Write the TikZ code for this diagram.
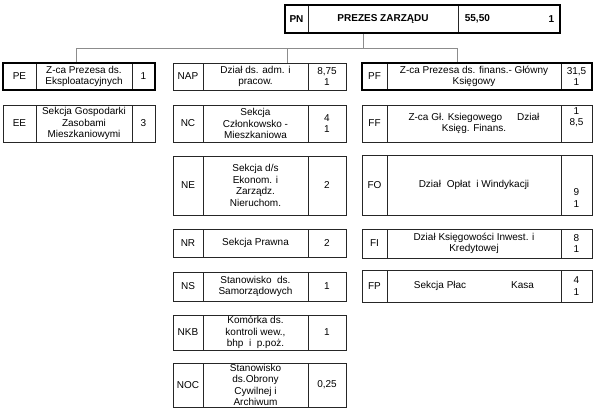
\documentclass[tikz,border=0pt]{standalone}
\usepackage{fontspec}
\setmainfont{Liberation Sans}
\usetikzlibrary{fit}
\newcommand\colL{\def\cxa{3}\def\cxb{36}\def\cxc{132}\def\cxd{155}}
\newcommand\colM{\def\cxa{173}\def\cxb{203}\def\cxc{308}\def\cxd{346}}
\newcommand\colR{\def\cxa{362}\def\cxb{387}\def\cxc{561}\def\cxd{592}}
\newcommand\colT{\def\cxa{285}\def\cxb{308}\def\cxc{458}\def\cxd{560}}
% #1 outer opts, #2 column, #3 name, #4 y1, #5 y2, #6 code, #7 text, #8 number
\newcommand\orgrow[8][]{%
  #2%
  \node[cell, fit={(\cxa,#4)(\cxb,#5)}] (#3-code) {};
  \node[cell, fit={(\cxb,#4)(\cxc,#5)}] (#3-text) {};
  \node[cell, fit={(\cxc,#4)(\cxd,#5)}] (#3-num) {};
  \node[outer, fit={(\cxa,#4)(\cxd,#5)}, #1] (#3) {};
  \node[lbl] (#3-codel) at (#3-code.center) {#6};
  \node[lbl] (#3-textl) at (#3-text.center) {#7};
  \node[lbl] (#3-numl) at (#3-num.center) {#8};
}
\begin{document}
\begin{tikzpicture}[x=1pt, y=-1pt,
  cell/.style={draw=black!85, line width=0.65pt, inner sep=0pt},
  outer/.style={draw=black!85, line width=0.65pt, inner sep=0pt},
  heavy/.style={line width=1.6pt, draw=black},
  lbl/.style={inner sep=0pt, align=center, anchor=center,
    font=\fontsize{10}{11.5}\selectfont, text=black},
  conn/.style={draw=black!45, line width=0.8pt},
  txt/.style={inner sep=0pt, font=\fontsize{10}{11.5}\selectfont\bfseries, text=black}]
\useasboundingbox (0,0) rectangle (595,415);
\fill[white] (0,0) rectangle (595,415);

% top
\orgrow[heavy]{\colT}{PN}{5}{33}{\bfseries PN}{\bfseries PREZES ZARZĄDU}{}
\node[txt, anchor=west] (PN-val) at ([xshift=7pt]PN-num.west) {55,50};
\node[txt, anchor=east] (PN-cnt) at ([xshift=-6pt]PN-num.east) {1};

% left column
\orgrow[heavy]{\colL}{PE}{63}{90}{PE}{Z-ca Prezesa ds.\\Eksploatacyjnych}{1}
\orgrow{\colL}{EE}{105}{142}{EE}{Sekcja Gospodarki\\Zasobami\\Mieszkaniowymi}{3}

% middle column
\orgrow{\colM}{NAP}{63}{90}{NAP}{Dział ds. adm. i\\pracow.}{8,75\\1}
\orgrow{\colM}{NC}{105}{142}{NC}{Sekcja\\Członkowsko -\\Mieszkaniowa}{4\\1}
\orgrow{\colM}{NE}{156}{215}{NE}{Sekcja d/s\\Ekonom. i\\Zarządz.\\Nieruchom.}{2}
\orgrow{\colM}{NR}{229}{257}{NR}{Sekcja Prawna}{2}
\orgrow{\colM}{NS}{272}{301}{NS}{Stanowisko\ \ ds.\\Samorządowych}{1}
\orgrow{\colM}{NKB}{315}{350}{NKB}{Komórka ds.\\kontroli wew.,\\bhp\ \ i\ \ p.poż.}{1}
\orgrow{\colM}{NOC}{363}{407}{NOC}{Stanowisko\\ds.Obrony\\Cywilnej i\\Archiwum}{0,25}

% right column
\orgrow[heavy]{\colR}{PF}{63}{90}{PF}{Z-ca Prezesa ds. finans.- Główny\\Księgowy}{31,5\\1}
\orgrow{\colR}{FF}{105}{142}{FF}{Z-ca Gł. Ksiegowego\hspace{15pt}Dział\\Księg. Finans.}{}
\node[lbl, yshift=6.5pt] (FF-numv) at (FF-num.center) {1\\8,5};
\orgrow{\colR}{FO}{155}{215}{FO}{Dział\hspace{3pt} Opłat\hspace{3pt} i Windykacji}{}
\node[lbl, yshift=-13pt] (FO-numv) at (FO-num.center) {9\\1};
\orgrow{\colR}{FI}{229}{258}{FI}{Dział Księgowości Inwest. i\\Kredytowej}{8\\1}
\orgrow{\colR}{FP}{270}{302}{FP}{Sekcja Płac\hspace{45pt}Kasa}{4\\1}

% connectors
\coordinate (bus) at (363,48);
\coordinate (b1) at (76,48);
\coordinate (b2) at (287,48);
\coordinate (b3) at (457,48);
\draw[conn] (PN.south -| bus) -- (bus);
\draw[conn] (b1) -- (b3);
\draw[conn] (b1) -- (b1 |- PE.north);
\draw[conn] (b2) -- (b2 |- NAP.north);
\draw[conn] (b3) -- (b3 |- PF.north);
\end{tikzpicture}
\end{document}
